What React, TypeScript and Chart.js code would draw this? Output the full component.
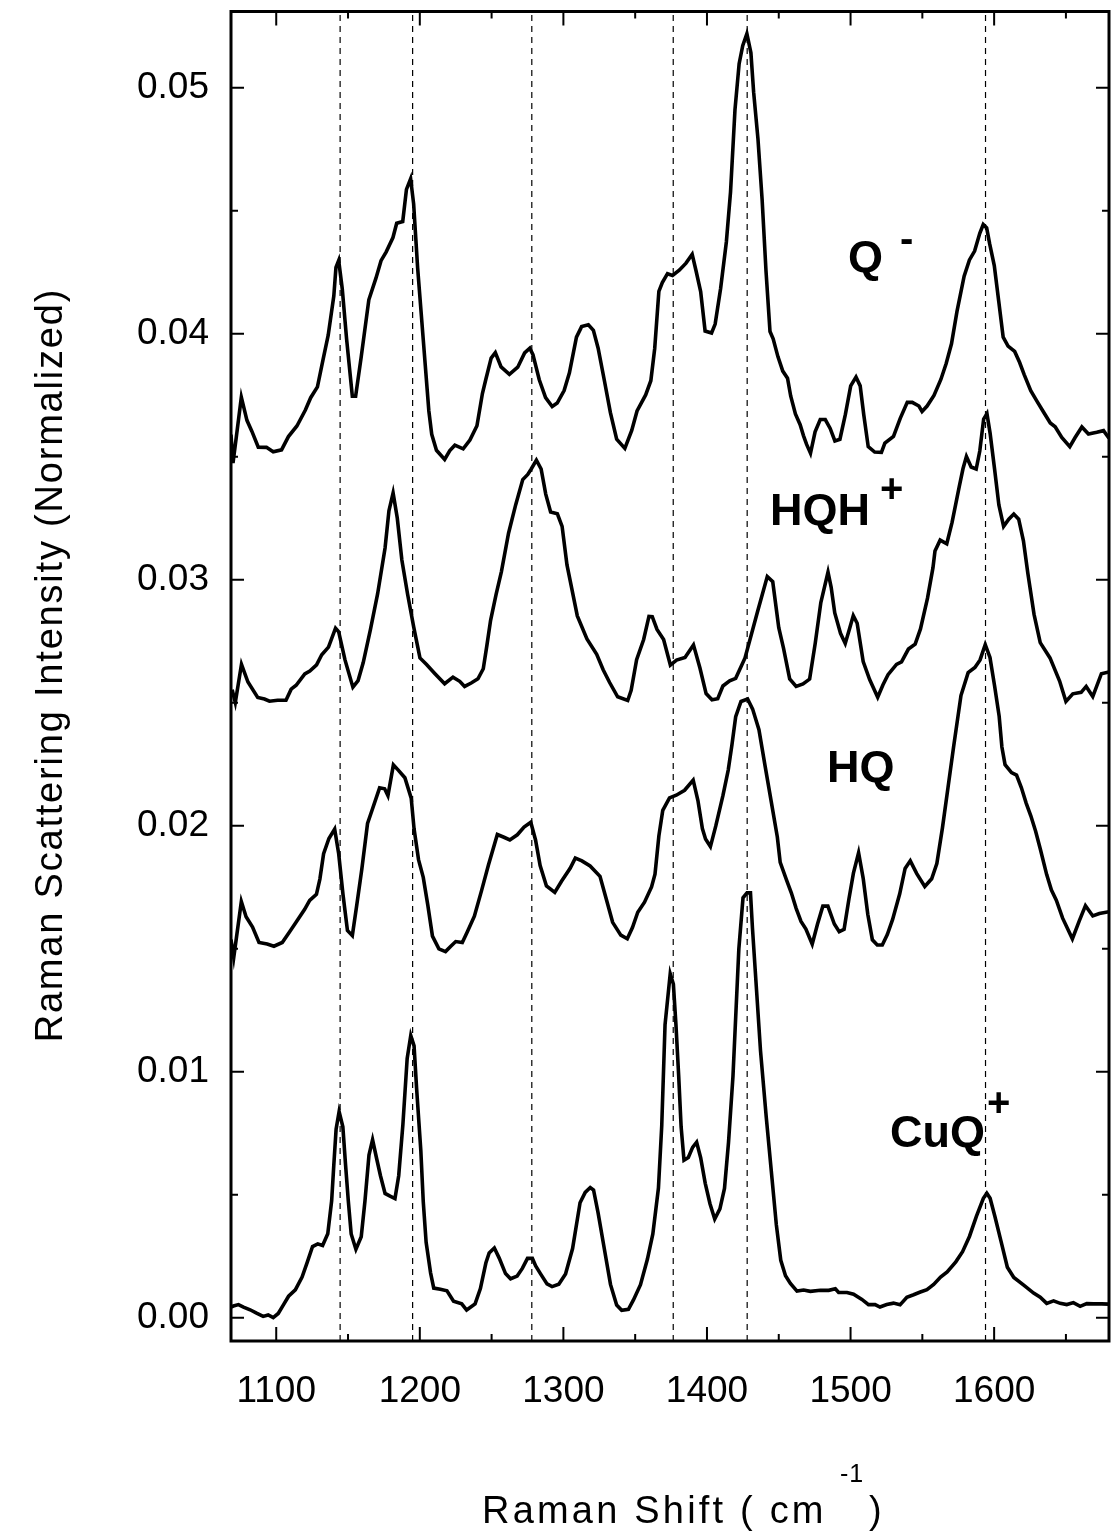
import React, { useEffect, useRef } from "react";
import { Chart, registerables } from "chart.js";

Chart.register(...registerables);

// ---------- data (Raman shift in cm-1, normalized intensity) ----------
const qMinusX = [1068.5,1069.9,1075.7,1079.6,1083.0,1087.5,1093.2,1097.9,1103.7,1108.5,1114.4,1120.3,1124.0,1128.7,1132.5,1136.2,1140.1,1141.6,1143.5,1146.0,1149.0,1153.0,1155.3,1159.2,1164.5,1169.4,1173.0,1176.6,1181.3,1183.9,1188.1,1190.7,1193.6,1195.7,1198.5,1202.4,1206.3,1208.3,1211.6,1217.3,1220.9,1224.4,1230.2,1234.9,1239.8,1243.6,1246.0,1249.7,1252.6,1256.6,1262.4,1268.2,1273.0,1276.6,1278.8,1283.2,1287.6,1292.2,1295.7,1300.5,1304.2,1309.1,1312.7,1317.4,1320.9,1324.2,1328.5,1332.7,1337.1,1342.8,1347.6,1351.3,1357.3,1360.9,1363.6,1366.5,1368.9,1372.5,1376.0,1380.7,1385.4,1389.7,1392.3,1395.6,1398.7,1403.2,1405.7,1409.5,1413.5,1416.4,1419.5,1422.4,1424.9,1427.8,1430.6,1432.5,1435.5,1438.4,1441.1,1443.9,1446.1,1449.4,1452.8,1456.1,1458.3,1461.6,1464.9,1467.2,1469.4,1472.1,1475.3,1478.9,1482.4,1485.8,1489.1,1492.6,1496.4,1500.1,1503.8,1506.7,1509.2,1512.3,1516.8,1521.5,1523.9,1529.9,1534.6,1539.5,1543.0,1547.6,1549.8,1553.3,1558.1,1562.9,1566.6,1570.3,1574.1,1579.1,1582.8,1586.4,1590.0,1592.4,1594.8,1596.9,1600.1,1603.2,1606.3,1609.7,1614.3,1617.7,1621.0,1625.5,1630.0,1634.6,1639.1,1642.5,1647.1,1652.7,1656.3,1661.1,1665.7,1671.5,1676.2,1680.0];
const qMinusY = [0.0359,0.03474,0.03742,0.03648,0.03604,0.03539,0.03538,0.0352,0.03528,0.03582,0.03625,0.0369,0.0374,0.03784,0.03892,0.03994,0.04153,0.0427,0.04298,0.04182,0.03979,0.03746,0.03746,0.03906,0.04138,0.04225,0.04297,0.04333,0.04391,0.04449,0.04456,0.04587,0.0463,0.04528,0.04267,0.03976,0.03686,0.03591,0.03526,0.03489,0.03525,0.03547,0.03532,0.03568,0.03626,0.03757,0.03815,0.03901,0.03923,0.03865,0.03835,0.03864,0.03922,0.03941,0.03915,0.03813,0.0374,0.03704,0.03718,0.03769,0.03841,0.03986,0.04029,0.04036,0.04014,0.03941,0.03811,0.0368,0.03571,0.03534,0.03607,0.03686,0.03751,0.03809,0.0394,0.04172,0.04208,0.04244,0.04237,0.04258,0.04287,0.04323,0.04258,0.04171,0.04011,0.04003,0.04039,0.04184,0.04373,0.04576,0.0491,0.05098,0.05171,0.0522,0.05142,0.04982,0.04793,0.04546,0.04256,0.04009,0.03979,0.03907,0.03848,0.03819,0.03747,0.03674,0.0363,0.03586,0.0355,0.03514,0.03601,0.03651,0.03651,0.03615,0.03564,0.03571,0.03672,0.03788,0.03824,0.03788,0.03671,0.03541,0.03519,0.03518,0.03555,0.03583,0.03656,0.03721,0.03721,0.03706,0.03684,0.03706,0.03749,0.03814,0.03879,0.03959,0.0409,0.04234,0.043,0.04336,0.04408,0.04444,0.0443,0.04365,0.04277,0.04132,0.03986,0.0395,0.03928,0.03884,0.03833,0.03768,0.03724,0.0368,0.03637,0.03622,0.03578,0.03541,0.03577,0.03621,0.03592,0.03599,0.03606,0.03575];

const hqhX = [1069.3,1071.5,1075.8,1080.3,1087.1,1091.8,1095.3,1101.0,1106.8,1110.4,1113.9,1119.9,1123.4,1128.1,1131.7,1136.4,1141.3,1143.5,1147.9,1153.4,1157.0,1160.6,1165.6,1170.6,1175.8,1178.5,1181.4,1184.3,1187.5,1191.5,1195.8,1200.1,1204.7,1210.4,1217.3,1223.1,1227.8,1231.2,1235.8,1240.5,1244.2,1246.7,1249.3,1253.1,1256.8,1261.8,1266.8,1271.7,1275.2,1277.6,1281.2,1284.5,1287.7,1291.1,1295.8,1299.1,1302.5,1309.7,1316.4,1323.2,1327.7,1332.2,1337.8,1344.8,1347.2,1351.0,1355.9,1359.6,1361.9,1365.2,1369.8,1374.5,1378.8,1384.7,1390.6,1395.1,1399.4,1403.5,1407.5,1411.1,1415.8,1420.0,1426.5,1435.1,1442.0,1445.8,1450.0,1453.3,1457.6,1462.1,1466.9,1471.5,1475.4,1479.3,1484.3,1486.5,1489.0,1493.0,1496.3,1499.4,1501.9,1504.6,1508.8,1513.3,1518.9,1522.6,1526.1,1532.0,1535.5,1540.3,1545.0,1548.7,1553.6,1557.4,1558.8,1562.4,1567.0,1570.7,1575.7,1578.3,1580.7,1584.0,1587.5,1590.0,1592.7,1595.0,1597.2,1600.3,1603.3,1606.6,1610.2,1613.7,1617.1,1620.4,1623.5,1627.8,1632.1,1638.9,1645.6,1650.0,1654.8,1660.6,1664.1,1668.7,1674.7,1680.0];
const hqhY = [0.02553,0.02501,0.02656,0.02584,0.02521,0.02515,0.02506,0.0251,0.0251,0.02555,0.02571,0.02617,0.02629,0.02654,0.02695,0.02726,0.02803,0.02788,0.02674,0.02563,0.0259,0.02663,0.02797,0.02942,0.03129,0.0328,0.03353,0.03251,0.0308,0.02941,0.02806,0.02682,0.02655,0.02619,0.02577,0.02604,0.02587,0.02566,0.0258,0.02597,0.02638,0.02732,0.02835,0.02939,0.03032,0.03189,0.03305,0.03407,0.03428,0.0345,0.03486,0.0345,0.03348,0.03275,0.03268,0.03217,0.0306,0.02853,0.02759,0.02697,0.02634,0.02582,0.02524,0.02509,0.0255,0.02675,0.02757,0.02851,0.0285,0.02798,0.02757,0.02653,0.02673,0.02684,0.02735,0.02641,0.02537,0.02512,0.02516,0.02568,0.02589,0.02599,0.02682,0.02868,0.03013,0.02992,0.02805,0.02722,0.02597,0.02566,0.02576,0.02596,0.02742,0.02907,0.03031,0.02969,0.02865,0.02782,0.02741,0.02803,0.02854,0.02823,0.02667,0.02594,0.02522,0.02573,0.02614,0.02656,0.02666,0.02718,0.02738,0.028,0.02925,0.03049,0.03117,0.03161,0.03146,0.03233,0.03378,0.03451,0.03501,0.03458,0.0345,0.03523,0.03653,0.03675,0.03595,0.0345,0.03304,0.03217,0.03246,0.03267,0.03246,0.03158,0.03025,0.02859,0.02744,0.02682,0.02588,0.02505,0.02536,0.02542,0.02566,0.02525,0.02618,0.02625];

const hqX = [1068.5,1070.4,1075.7,1079.0,1083.5,1088.0,1093.7,1098.4,1104.2,1109.0,1113.8,1119.7,1123.3,1128.0,1130.4,1133.0,1136.7,1140.7,1143.5,1146.5,1149.6,1153.0,1156.1,1159.6,1163.6,1167.2,1172.0,1175.5,1177.8,1181.6,1185.0,1189.6,1194.0,1196.0,1199.1,1202.4,1205.6,1208.8,1213.3,1217.9,1221.4,1225.0,1229.6,1233.2,1238.0,1243.0,1247.8,1254.0,1258.6,1262.7,1267.9,1272.6,1277.3,1280.6,1283.8,1288.2,1294.0,1298.8,1304.7,1308.3,1312.9,1318.6,1325.5,1329.9,1334.3,1340.0,1344.5,1348.1,1351.8,1356.5,1361.4,1363.8,1366.5,1369.2,1373.9,1378.6,1384.4,1390.4,1393.7,1396.8,1399.0,1402.4,1406.1,1411.1,1414.8,1417.4,1420.0,1423.7,1428.3,1431.8,1436.2,1440.4,1444.7,1449.0,1451.0,1455.5,1458.8,1462.1,1465.5,1468.9,1473.3,1477.0,1480.7,1484.2,1488.7,1492.1,1495.5,1498.9,1502.0,1505.6,1508.8,1512.0,1515.2,1518.6,1522.1,1525.6,1529.3,1534.2,1538.0,1541.6,1546.1,1551.7,1556.5,1560.1,1564.0,1567.9,1571.8,1576.9,1581.9,1586.6,1590.2,1593.8,1597.1,1600.3,1603.5,1605.4,1607.6,1612.1,1615.6,1619.0,1622.3,1625.6,1628.9,1632.2,1636.6,1639.9,1643.3,1647.7,1654.5,1659.3,1663.6,1668.7,1673.3,1680.0];
const hqY = [0.01537,0.01464,0.01692,0.0163,0.01588,0.01525,0.01519,0.0151,0.01525,0.01566,0.01607,0.01659,0.01696,0.01721,0.01783,0.01886,0.01948,0.01986,0.01886,0.0172,0.01574,0.01553,0.01678,0.01823,0.02009,0.02071,0.02154,0.0215,0.02122,0.02247,0.02226,0.02195,0.02112,0.01987,0.01862,0.0179,0.01676,0.01551,0.01499,0.01488,0.01509,0.01529,0.01525,0.0157,0.01632,0.01736,0.0184,0.01964,0.01953,0.01942,0.01963,0.01994,0.02014,0.01942,0.01838,0.01755,0.01729,0.01775,0.01827,0.01868,0.01857,0.01836,0.01794,0.01701,0.01607,0.01555,0.0154,0.01586,0.01648,0.01689,0.01751,0.01803,0.01958,0.02062,0.02113,0.02124,0.02144,0.02185,0.02102,0.01988,0.01946,0.01915,0.01998,0.02122,0.02226,0.02329,0.02443,0.02505,0.02515,0.02474,0.0239,0.02245,0.021,0.01954,0.01851,0.01778,0.01726,0.01664,0.01611,0.0158,0.01518,0.016,0.01673,0.01673,0.016,0.01569,0.01579,0.01703,0.01807,0.0189,0.01786,0.0164,0.01536,0.01515,0.01515,0.01557,0.01619,0.01722,0.01826,0.01857,0.01805,0.01753,0.01784,0.01846,0.01991,0.02156,0.02322,0.02529,0.02622,0.02643,0.02674,0.02736,0.02684,0.02569,0.02445,0.0232,0.02248,0.02216,0.02206,0.02154,0.02092,0.02039,0.01977,0.01904,0.01801,0.01738,0.01697,0.01624,0.0154,0.01613,0.01675,0.01633,0.01643,0.0165];

const cuqX = [1068.5,1070.2,1073.7,1077.2,1081.8,1086.3,1090.9,1094.4,1097.9,1101.4,1105.0,1108.6,1113.3,1118.0,1121.7,1125.3,1128.9,1132.3,1135.9,1138.6,1140.1,1141.7,1143.8,1146.4,1148.3,1150.2,1152.2,1155.5,1159.2,1161.8,1164.6,1167.1,1169.8,1172.6,1175.8,1179.3,1182.7,1185.3,1188.2,1191.2,1193.7,1196.0,1197.8,1200.7,1202.4,1204.4,1207.5,1209.7,1214.3,1218.9,1223.5,1229.2,1232.6,1238.5,1242.2,1246.0,1248.3,1251.9,1255.3,1259.7,1263.2,1267.8,1271.4,1275.0,1278.4,1280.7,1284.1,1288.6,1292.1,1296.8,1301.5,1306.4,1311.6,1315.2,1318.7,1321.0,1324.2,1328.5,1332.8,1337.1,1340.6,1345.3,1348.8,1353.7,1358.5,1362.3,1366.2,1368.5,1370.8,1374.4,1376.6,1378.4,1380.3,1382.0,1384.0,1387.0,1390.0,1392.8,1395.6,1398.8,1402.1,1405.4,1409.0,1412.2,1415.0,1418.1,1422.2,1425.1,1427.9,1430.3,1431.7,1434.5,1437.3,1441.3,1445.3,1448.3,1451.4,1454.7,1458.1,1462.7,1467.3,1472.0,1479.0,1484.8,1489.4,1491.7,1497.5,1502.1,1507.9,1512.5,1517.1,1520.5,1525.2,1529.9,1534.5,1539.2,1543.9,1548.6,1553.2,1557.9,1562.7,1567.3,1573.3,1578.0,1582.8,1587.7,1592.5,1594.9,1597.2,1600.5,1604.9,1609.2,1613.7,1620.6,1627.5,1632.1,1636.6,1641.4,1646.0,1650.6,1655.2,1659.9,1664.5,1669.2,1674.9,1680.0];
const cuqY = [0.00043,0.00047,0.00053,0.00043,0.00032,0.00018,0.00005,0.00011,0.0,0.00017,0.00052,0.00087,0.00113,0.00165,0.00227,0.00289,0.003,0.00293,0.00341,0.00475,0.0062,0.00766,0.00838,0.00776,0.0062,0.00475,0.0034,0.00278,0.00329,0.00474,0.00661,0.00723,0.0065,0.00577,0.00505,0.00494,0.00484,0.00577,0.00784,0.01054,0.01147,0.01105,0.00929,0.0068,0.00472,0.00306,0.00182,0.0012,0.00115,0.00109,0.00067,0.00056,0.00031,0.00056,0.00118,0.00222,0.00263,0.00283,0.00242,0.00179,0.00158,0.00169,0.002,0.00241,0.00241,0.0021,0.00178,0.00137,0.00126,0.00136,0.00177,0.00281,0.00467,0.00509,0.00529,0.00519,0.00425,0.0028,0.00135,0.00051,0.0003,0.00034,0.00072,0.00134,0.00237,0.0034,0.00527,0.0078,0.01191,0.01398,0.01356,0.0119,0.00983,0.00775,0.0064,0.00651,0.00692,0.00713,0.0065,0.00546,0.00463,0.00401,0.00442,0.00525,0.00712,0.00981,0.01499,0.01707,0.01727,0.01727,0.01582,0.01333,0.01084,0.00814,0.00565,0.00378,0.00233,0.0017,0.00139,0.00108,0.00112,0.00107,0.00111,0.00111,0.00117,0.00102,0.00102,0.00095,0.00074,0.00053,0.00053,0.00043,0.00053,0.00059,0.00052,0.00083,0.00093,0.00104,0.00114,0.00135,0.00165,0.00186,0.00227,0.00268,0.0033,0.00413,0.00485,0.00506,0.00485,0.00412,0.00308,0.00205,0.00163,0.00132,0.001,0.00083,0.00058,0.00068,0.00058,0.00053,0.00061,0.00046,0.00057,0.00056,0.00056,0.00055];

// band positions marked with dashed lines (cm-1)
const bandLines = [1144.5, 1195, 1278, 1376.5, 1428, 1594];

// axis ticks
const xMajorTicks = [1100, 1200, 1300, 1400, 1500, 1600];
const xMinorTicks = [1150, 1250, 1350, 1450, 1550, 1650];
const yMajorTicks = [0, 0.01, 0.02, 0.03, 0.04, 0.05];
const yMinorTicks = [0.005, 0.015, 0.025, 0.035, 0.045];

const X_MIN = 1068.5;
const X_MAX = 1680;
const Y_MIN = -0.00095;
const Y_MAX = 0.0531;

const seriesNames = ["Q", "HQH", "HQ", "CuQ"];
const seriesCharges = ["-", "+", "", "+"];

const xTitle = "Raman Shift ( cm";
const xTitleSup = "-1";
const xTitleEnd = ")";
const yTitle = "Raman Scattering Intensity (Normalized)";

const FONT = "'Liberation Sans', Arial, Helvetica, sans-serif";

const toPoints = (xs: number[], ys: number[]) => xs.map((x, i) => ({ x, y: ys[i] }));

// draw text character by character with extra tracking; returns end x
const drawSpaced = (ctx: CanvasRenderingContext2D, text: string, x: number, y: number, sp: number) => {
  let cx = x;
  for (const ch of text) {
    ctx.fillText(ch, cx, y);
    cx += ctx.measureText(ch).width + sp;
  }
  return cx - sp;
};
const spacedWidth = (ctx: CanvasRenderingContext2D, text: string, sp: number) => {
  let w = 0;
  for (const ch of text) w += ctx.measureText(ch).width + sp;
  return w - sp;
};

const decorPlugin = {
  id: "decor",
  afterDatasetsDraw(chart: any) {
    const { ctx, chartArea: a, scales } = chart;
    const xs = scales.x;
    const ys = scales.y;
    ctx.save();
    ctx.strokeStyle = "#000";
    ctx.lineCap = "butt";
    // frame
    ctx.lineWidth = 3;
    ctx.strokeRect(a.left, a.top, a.right - a.left, a.bottom - a.top);
    // ticks (inward)
    ctx.lineWidth = 2;
    const vt = (v: number, len: number) => {
      const px = xs.getPixelForValue(v);
      ctx.beginPath();
      ctx.moveTo(px, a.bottom);
      ctx.lineTo(px, a.bottom - len);
      ctx.moveTo(px, a.top);
      ctx.lineTo(px, a.top + len);
      ctx.stroke();
    };
    const ht = (v: number, len: number) => {
      const py = ys.getPixelForValue(v);
      ctx.beginPath();
      ctx.moveTo(a.left, py);
      ctx.lineTo(a.left + len, py);
      ctx.moveTo(a.right, py);
      ctx.lineTo(a.right - len, py);
      ctx.stroke();
    };
    xMajorTicks.forEach((v) => vt(v, 14));
    xMinorTicks.forEach((v) => vt(v, 7));
    yMajorTicks.forEach((v) => ht(v, 13));
    yMinorTicks.forEach((v) => ht(v, 7));

    // series labels
    ctx.fillStyle = "#000";
    ctx.textBaseline = "alphabetic";
    ctx.textAlign = "left";
    const bold = (s: number) => `bold ${s}px ${FONT}`;
    const labelPos = [
      { x: 848, y: 272, sx: 900, sy: 252 },
      { x: 770, y: 525, sx: 880, sy: 502 },
      { x: 827, y: 782, sx: 0, sy: 0 },
      { x: 890, y: 1147, sx: 987, sy: 1116 },
    ];
    seriesNames.forEach((name, i) => {
      const p = labelPos[i];
      ctx.font = bold(45);
      ctx.fillText(name, p.x, p.y);
      if (seriesCharges[i]) {
        ctx.font = bold(40);
        ctx.fillText(seriesCharges[i], p.sx, p.sy);
      }
    });

    // x title
    ctx.font = `38px ${FONT}`;
    drawSpaced(ctx, xTitle, 482, 1523, 3.2);
    ctx.font = `25px ${FONT}`;
    drawSpaced(ctx, xTitleSup, 840, 1482, 1);
    ctx.font = `38px ${FONT}`;
    ctx.fillText(xTitleEnd, 869, 1523);

    // y title
    ctx.save();
    ctx.translate(52, 666);
    ctx.rotate(-Math.PI / 2);
    ctx.textAlign = "left";
    ctx.textBaseline = "middle";
    ctx.font = `38px ${FONT}`;
    const w = spacedWidth(ctx, yTitle, 1.8);
    drawSpaced(ctx, yTitle, -w / 2, 0, 1.8);
    ctx.restore();

    ctx.restore();
  },
};

export default function App() {
  const canvasRef = useRef<HTMLCanvasElement | null>(null);

  useEffect(() => {
    const canvas = canvasRef.current;
    if (!canvas) return;
    const curve = (xs: number[], ys: number[]) => ({
      data: toPoints(xs, ys),
      borderColor: "#000",
      borderWidth: 3.6,
      pointRadius: 0,
      tension: 0,
      fill: false,
      order: 1,
    });
    const dashed = bandLines.map((v) => ({
      data: [
        { x: v, y: Y_MIN },
        { x: v, y: Y_MAX },
      ],
      borderColor: "#000",
      borderWidth: 1.2,
      borderDash: [6, 5],
      pointRadius: 0,
      fill: false,
      order: 2,
    }));
    const chart = new Chart(canvas, {
      type: "line",
      data: {
        datasets: [
          curve(qMinusX, qMinusY),
          curve(hqhX, hqhY),
          curve(hqX, hqY),
          curve(cuqX, cuqY),
          ...dashed,
        ] as any,
      },
      options: {
        responsive: false,
        animation: false,
        devicePixelRatio: 1,
        layout: { padding: { top: 11.5, right: 6, left: 0, bottom: 0 } },
        plugins: { legend: { display: false }, tooltip: { enabled: false } },
        scales: {
          x: {
            type: "linear",
            min: X_MIN,
            max: X_MAX,
            grid: { display: false, drawTicks: false, tickLength: 0 },
            border: { display: false },
            afterBuildTicks: (s: any) => {
              s.ticks = xMajorTicks.map((v) => ({ value: v }));
            },
            afterFit: (s: any) => {
              s.height = 195;
              s.paddingLeft = 0;
              s.paddingRight = 0;
              s.paddingTop = 0;
              s.paddingBottom = 0;
            },
            ticks: {
              color: "#000",
              font: { family: FONT, size: 37 },
              padding: 29,
              maxRotation: 0,
              autoSkip: false,
              callback: (v: any) => String(v),
            },
          },
          y: {
            type: "linear",
            min: Y_MIN,
            max: Y_MAX,
            grid: { display: false, drawTicks: false, tickLength: 0 },
            border: { display: false },
            afterBuildTicks: (s: any) => {
              s.ticks = yMajorTicks.map((v) => ({ value: v }));
            },
            afterFit: (s: any) => {
              s.width = 231;
              s.paddingLeft = 0;
              s.paddingRight = 0;
              s.paddingTop = 0;
              s.paddingBottom = 0;
            },
            ticks: {
              color: "#000",
              font: { family: FONT, size: 37 },
              padding: 22,
              autoSkip: false,
              callback: (v: any) => Number(v).toFixed(2),
            },
          },
        },
      } as any,
      plugins: [decorPlugin],
    });
    return () => chart.destroy();
  }, []);

  return (
    <div style={{ position: "absolute", left: 0, top: 0, width: 1115, height: 1536, background: "#fff" }}>
      <canvas ref={canvasRef} width={1115} height={1536} />
    </div>
  );
}
